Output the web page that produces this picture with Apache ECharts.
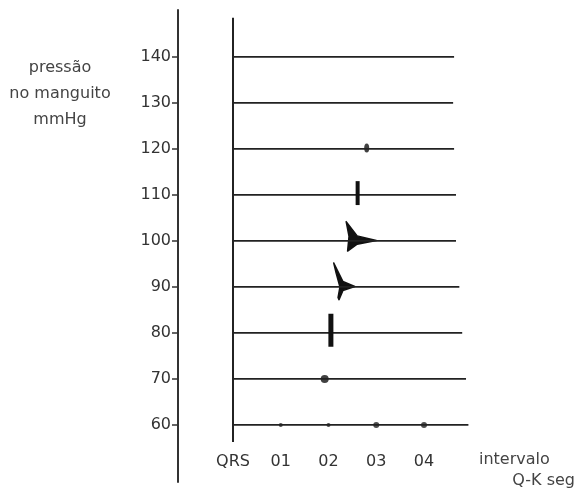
<!DOCTYPE html>
<html>
<head>
<meta charset="utf-8">
<script src="https://cdn.jsdelivr.net/npm/echarts@6/dist/echarts.min.js"></script>
<style>
html,body{margin:0;padding:0;background:#fff;}
#c{width:577px;height:491px;}
</style>
</head>
<body>
<div id="c"></div>
<script>
// ---- data ----
const pressureLevels = [60, 70, 80, 90, 100, 110, 120, 130, 140];
const levelLineEnds = [0.493, 0.488, 0.48, 0.474, 0.467, 0.467, 0.463, 0.461, 0.463];
const xTickValues = [0, 0.1, 0.2, 0.3, 0.4];
const xTickLabels = ['QRS', '01', '02', '03', '04'];
const qrsLine = [[0, 56.3], [0, 148.5]];
const baselineDots = [[0.1, 60], [0.2, 60], [0.3, 60], [0.4, 60]];
const baselineDotSizes = [4, 4, 6, 6];
const blob120 = [[0.28, 120.2]];
const bar110 = [[0.261, 113], [0.261, 107.8]];
const bar80 = [[0.205, 84.2], [0.205, 77]];
const dot70 = [[0.192, 70]];
const spike100 = [[0.237, 104.2], [0.26, 101.1], [0.3, 100.1], [0.26, 99.3], [0.24, 97.8], [0.243, 101]];
const spike90 = [[0.211, 95.2], [0.23, 91.2], [0.255, 90.1], [0.23, 89.2], [0.222, 87.2], [0.22, 87.7], [0.224, 90], [0.216, 93]];
const yTitle = ['pressão', 'no manguito', 'mmHg'];
const xTitle = ['intervalo', 'Q-K seg'];

const ink = '#222';
const font = 'DejaVu Sans';

const chart = echarts.init(document.getElementById('c'), null, {renderer: 'canvas'});

const series = [];
pressureLevels.forEach((lv, i) => {
  series.push({
    type: 'line', data: [[0, lv], [levelLineEnds[i], lv]],
    symbol: 'none', silent: true, animation: false,
    lineStyle: {color: ink, width: 1.8}
  });
});
series.push({type: 'line', data: qrsLine, symbol: 'none', animation: false,
  lineStyle: {color: ink, width: 2}});
series.push({type: 'scatter', data: baselineDots, animation: false,
  symbolSize: (v, p) => baselineDotSizes[p.dataIndex], itemStyle: {color: ink}});
series.push({type: 'scatter', data: blob120, animation: false,
  symbolSize: [5, 9], itemStyle: {color: '#111'}});
series.push({type: 'line', data: bar110, symbol: 'none', animation: false,
  lineStyle: {color: '#111', width: 4}});
series.push({type: 'line', data: bar80, symbol: 'none', animation: false,
  lineStyle: {color: '#111', width: 5}});
series.push({type: 'scatter', data: dot70, animation: false,
  symbolSize: 8, itemStyle: {color: '#111'}});
function polySeries(pts) {
  return {
    type: 'custom', animation: false,
    data: [0],
    renderItem: (params, api) => ({
      type: 'polygon',
      shape: {points: pts.map(p => api.coord(p))},
      style: {fill: '#111', stroke: '#111', lineWidth: 1.5, lineJoin: 'round'}
    })
  };
}
series.push(polySeries(spike100));
series.push(polySeries(spike90));

const graphics = [];
yTitle.forEach((t, i) => {
  graphics.push({type: 'text', x: 60, y: 68 + i * 26,
    style: {text: t, fill: '#444', font: '16px "' + font + '"', textAlign: 'center', textVerticalAlign: 'middle'}});
});
graphics.push({type: 'text', x: 479, y: 460,
  style: {text: xTitle[0], fill: '#444', font: '16px "' + font + '"', textAlign: 'left', textVerticalAlign: 'middle'}});
graphics.push({type: 'text', x: 575, y: 481,
  style: {text: xTitle[1], fill: '#444', font: '16px "' + font + '"', textAlign: 'right', textVerticalAlign: 'middle'}});

chart.setOption({
  animation: false,
  grid: {left: 178, right: 105.25, top: 10, bottom: 9, containLabel: false},
  xAxis: {
    type: 'value', min: -0.1152, max: 0.5,
    axisLine: {show: false}, axisTick: {show: false}, splitLine: {show: false},
    axisLabel: {
      customValues: xTickValues,
      formatter: v => { const i = xTickValues.findIndex(t => Math.abs(t - v) < 1e-6); return i >= 0 ? xTickLabels[i] : ''; },
      margin: -28, color: '#333', fontFamily: font, fontSize: 16, verticalAlign: 'top'
    }
  },
  yAxis: {
    type: 'value', min: 47.6, max: 150.2,
    axisLine: {show: true, onZero: false, lineStyle: {color: '#333', width: 2}},
    axisTick: {show: true, customValues: pressureLevels, length: 6, lineStyle: {color: '#333', width: 1.5}},
    splitLine: {show: false},
    axisLabel: {customValues: pressureLevels, margin: 7, color: '#333', fontFamily: font, fontSize: 16}
  },
  graphic: graphics,
  series: series
});
</script>
</body>
</html>
